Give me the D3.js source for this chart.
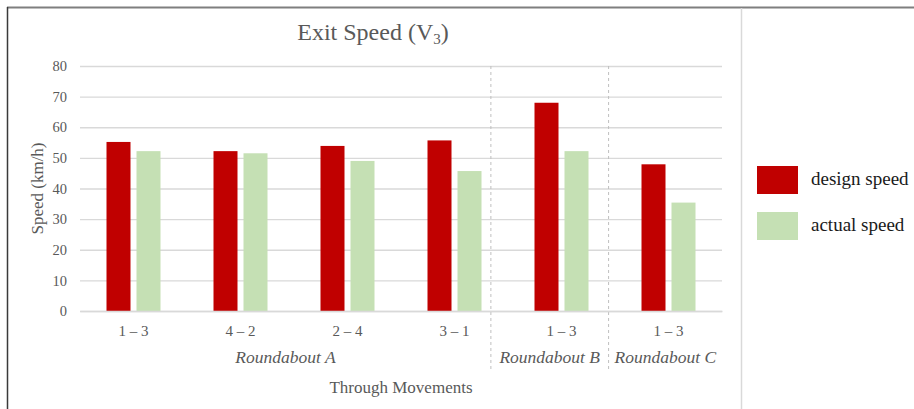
<!DOCTYPE html>
<html>
<head>
<meta charset="utf-8">
<script src="https://cdn.jsdelivr.net/npm/d3@7"></script>
<style>
  body { margin: 0; background: #fff; }
  svg { display: block; font-family: "Liberation Serif", "Times New Roman", serif; }
</style>
</head>
<body>
<svg width="914" height="409"></svg>
<script>
var movements = ['1 \u2013 3', '4 \u2013 2', '2 \u2013 4', '3 \u2013 1', '1 \u2013 3', '1 \u2013 3'];
var designSpeed = [55.2, 52.2, 53.9, 55.7, 68.0, 47.9];
var actualSpeed = [52.2, 51.5, 49.0, 45.7, 52.2, 35.4];
var seriesNames = ['design speed', 'actual speed'];
var groups = ['Roundabout A', 'Roundabout B', 'Roundabout C'];
// group edges in category units (separators are not on band midpoints)
var groupEdges = [0, 3.84, 4.94, 6];
var yTicks = [0, 10, 20, 30, 40, 50, 60, 70, 80];

var colors = ['#c00000', '#c5e0b4'];
var svg = d3.select('svg');

// frame
svg.append('line').attr('x1', 7).attr('x2', 914).attr('y1', 7.5).attr('y2', 7.5)
   .style('stroke', '#7f7f7f').style('stroke-width', 2);
svg.append('line').attr('x1', 7.5).attr('x2', 7.5).attr('y1', 7).attr('y2', 409)
   .style('stroke', '#3a3a3a').style('stroke-width', 1.5);
svg.append('line').attr('x1', 741.5).attr('x2', 741.5).attr('y1', 8).attr('y2', 409)
   .style('stroke', '#d9d9d9').style('stroke-width', 1.5);

var xScale = d3.scaleBand()
               .domain(d3.range(movements.length))
               .range([80, 722]);

var edgeScale = d3.scaleLinear()
                  .domain([0, movements.length])
                  .range([80, 722]);

var yScale = d3.scaleLinear()
               .domain([0, 80])
               .range([311, 66]);

var inner = d3.scaleBand()
              .domain([0, 1])
              .range([-27, 27])
              .paddingInner(0.2);

// gridlines + y labels
var yAxis = d3.axisLeft(yScale)
              .tickValues(yTicks)
              .tickSize(-642)
              .tickPadding(13);
svg.append('g')
   .attr('transform', 'translate(80,0)')
   .attr('id', 'yAxis')
   .call(yAxis)
   .call(function(g) {
     g.select('.domain').remove();
     g.selectAll('.tick line').style('stroke', '#d9d9d9').style('stroke-width', 1.3);
     g.selectAll('.tick text')
      .style('font-family', '"Liberation Serif", serif')
      .style('font-size', '14.5px')
      .style('fill', '#595959');
   });

// group separators
svg.selectAll('line.sep')
   .data(groupEdges.slice(1, -1))
   .enter()
   .append('line')
   .attr('class', 'sep')
   .attr('x1', function(d) { return edgeScale(d); })
   .attr('x2', function(d) { return edgeScale(d); })
   .attr('y1', 66)
   .attr('y2', 370)
   .style('stroke', '#bfbfbf')
   .style('stroke-dasharray', '3,3');

// bars
var rows = movements.map(function(m, i) {
  return { i: i, values: [designSpeed[i], actualSpeed[i]] };
});

svg.selectAll('g.cat')
   .data(rows)
   .enter()
   .append('g')
   .attr('class', 'cat')
   .attr('transform', function(d) {
     return 'translate(' + (xScale(d.i) + xScale.bandwidth() / 2) + ',0)';
   })
   .each(function(d) {
     d3.select(this)
       .selectAll('rect')
       .data(d.values)
       .enter()
       .append('rect')
       .attr('x', function(v, k) { return inner(k); })
       .attr('width', inner.bandwidth())
       .attr('y', function(v) { return yScale(v); })
       .attr('height', function(v) { return yScale(0) - yScale(v); })
       .style('fill', function(v, k) { return colors[k]; });
   });

// x baseline + category labels
var xAxis = d3.axisBottom(xScale)
              .tickSize(0)
              .tickPadding(14)
              .tickFormat(function(i) { return movements[i]; });
svg.append('g')
   .attr('transform', 'translate(0,311)')
   .attr('id', 'xAxis')
   .call(xAxis)
   .call(function(g) {
     g.select('.domain').style('stroke', '#d9d9d9').style('stroke-width', 1.3);
     g.selectAll('.tick text')
      .style('font-family', '"Liberation Serif", serif')
      .style('font-size', '15px')
      .style('fill', '#595959');
   });

// group labels
svg.selectAll('text.group')
   .data(groups)
   .enter()
   .append('text')
   .attr('class', 'group')
   .attr('x', function(d, i) { return (edgeScale(groupEdges[i]) + edgeScale(groupEdges[i + 1])) / 2; })
   .attr('y', 363)
   .attr('text-anchor', 'middle')
   .style('font-size', '17.5px')
   .style('font-style', 'italic')
   .style('fill', '#595959')
   .text(function(d) { return d; });

// axis titles
svg.append('text')
   .attr('x', 401)
   .attr('y', 393)
   .attr('text-anchor', 'middle')
   .style('font-size', '17px')
   .style('fill', '#595959')
   .text('Through Movements');

svg.append('text')
   .attr('transform', 'translate(43,' + ((yScale(0) + yScale(80)) / 2) + ') rotate(-90)')
   .attr('text-anchor', 'middle')
   .style('font-size', '17px')
   .style('fill', '#595959')
   .text('Speed (km/h)');

// title
var title = svg.append('text')
   .attr('x', 373)
   .attr('y', 40)
   .attr('text-anchor', 'middle')
   .style('font-size', '24px')
   .style('fill', '#595959');
title.append('tspan').text('Exit Speed (V');
title.append('tspan').attr('dy', 4).style('font-size', '15px').text('3');
title.append('tspan').attr('dy', -4).text(')');

// legend
var legend = svg.selectAll('g.legend')
   .data(seriesNames)
   .enter()
   .append('g')
   .attr('class', 'legend')
   .attr('transform', function(d, i) { return 'translate(757,' + (166 + i * 46) + ')'; });
legend.append('rect')
   .attr('width', 41)
   .attr('height', 28)
   .style('fill', function(d, i) { return colors[i]; });
legend.append('text')
   .attr('x', 54)
   .attr('y', 19)
   .style('font-size', '19px')
   .style('fill', '#1a1a1a')
   .text(function(d) { return d; });
</script>
</body>
</html>
